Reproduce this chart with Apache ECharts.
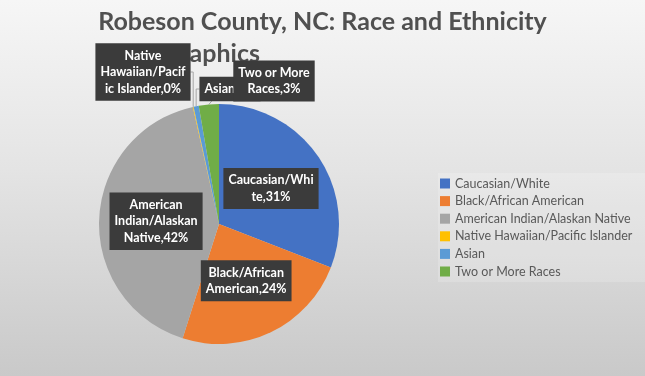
<!DOCTYPE html>
<html>
<head>
<meta charset="utf-8">
<script src="https://cdn.jsdelivr.net/npm/echarts@6/dist/echarts.min.js"></script>
<style>
  html, body { margin: 0; padding: 0; }
  #race-pie { width: 645px; height: 376px; }
</style>
</head>
<body>
<div id="race-pie"></div>
<script>
// 种族数据
const categories = [
  'Caucasian/White',
  'Black/African American',
  'American Indian/Alaskan Native',
  'Native Hawaiian/Pacific Islander',
  'Asian',
  'Two or More Races',
];
const values = [30.9, 24.0, 41.6, 0.1, 0.7, 2.7];
// 标签换行文字（跟原图一样的断行）
const labelLines = [
  ['Caucasian/Whi', 'te,{p}%'],
  ['Black/African', 'American,{p}%'],
  ['American', 'Indian/Alaskan', 'Native,{p}%'],
  ['Native', 'Hawaiian/Pacif', 'ic Islander,{p}%'],
  ['Asian,{p}%'],
  ['Two or More', 'Races,{p}%'],
];
const colors = ['#4472C4', '#ED7D31', '#A5A5A5', '#FFC000', '#5B9BD5', '#70AD47'];

// 外部小标签的位置
const outsideLabelPos = {
  3: { x: 143, y: 72 },
  4: { x: 230, y: 89 },
  5: { x: 274, y: 81 },
};

const chart = echarts.init(document.getElementById('race-pie'));

const titleStyle = {
  fontFamily: 'Lato',
  fontSize: 25,
  fontWeight: 'bold',
  color: '#505050',
};

const option = {
  backgroundColor: new echarts.graphic.LinearGradient(0, 0, 0, 1, [
    { offset: 0, color: '#f6f6f6' },
    { offset: 0.45, color: '#e4e4e4' },
    { offset: 1, color: '#c9c9c9' },
  ]),
  color: colors,
  title: [
    {
      text: 'Robeson County, NC: Race and Ethnicity',
      left: 'center',
      top: 4,
      z: 0,
      textStyle: titleStyle,
    },
    {
      text: 'Demographics',
      right: 380,
      top: 36,
      z: 0,
      textStyle: titleStyle,
    },
  ],
  legend: {
    orient: 'vertical',
    left: 438,
    top: 173,
    padding: [4, 20, 4, 2],
    backgroundColor: 'rgba(255,255,255,0.18)',
    itemWidth: 10,
    itemHeight: 10,
    itemGap: 4.6,
    icon: 'rect',
    data: categories,
    textStyle: {
      fontFamily: 'Lato',
      fontSize: 12.5,
      lineHeight: 12,
      color: '#595959',
    },
  },
  series: [
    {
      type: 'pie',
      center: [219, 224],
      radius: 120,
      startAngle: 90,
      clockwise: true,
      avoidLabelOverlap: false,
      label: {
        show: true,
        position: 'inside',
        fontFamily: 'Lato',
        fontSize: 12.5,
        fontWeight: 'bold',
        lineHeight: 16.5,
        color: '#ffffff',
        backgroundColor: '#3b3b3b',
        padding: [4, 5],
        formatter: (p) => labelLines[p.dataIndex]
          .map((s) => s.replace('{p}', Math.round(p.percent)))
          .join('\n'),
      },
      labelLine: {
        show: true,
        length: 4,
        length2: 4,
        lineStyle: { color: '#a6a6a6', width: 1 },
      },
      labelLayout: (params) => {
        const pos = outsideLabelPos[params.dataIndex];
        if (!pos) return {};
        return { x: pos.x, y: pos.y, align: 'center', verticalAlign: 'middle' };
      },
      emphasis: { disabled: true },
      data: categories.map((name, i) => ({
        name,
        value: values[i],
        label: outsideLabelPos[i] ? { position: 'outside' } : undefined,
        labelLine: outsideLabelPos[i] ? { show: true } : { show: false },
      })),
    },
  ],
};

chart.setOption(option);
</script>
</body>
</html>
